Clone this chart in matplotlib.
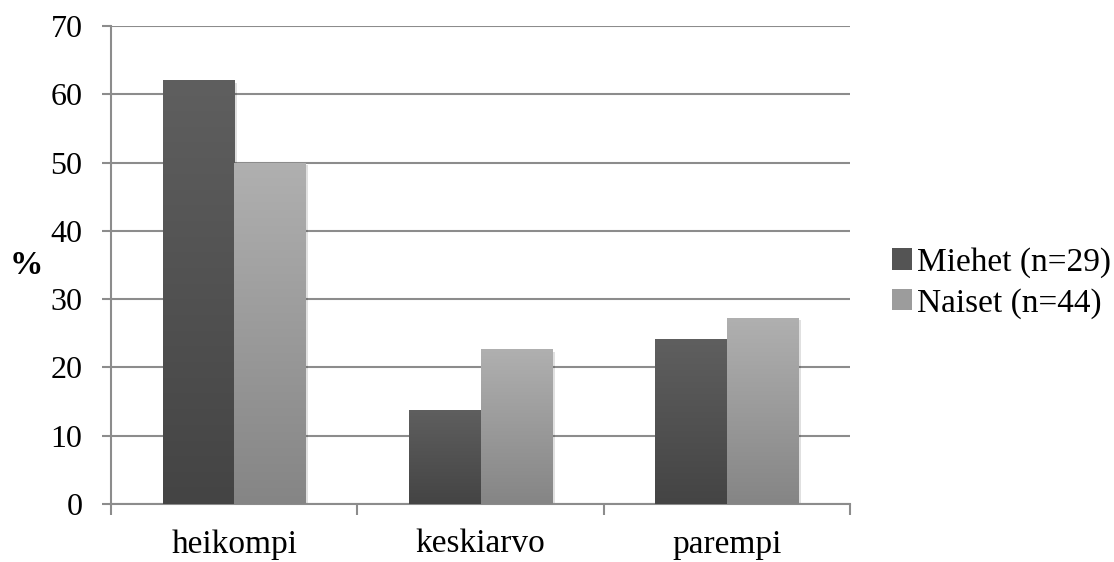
import numpy as np
import matplotlib.pyplot as plt
from matplotlib.colors import to_rgb
from matplotlib.patches import Patch
import matplotlib.patheffects as pe

categories = ['heikompi', 'keskiarvo', 'parempi']
miehet = [62.1, 13.8, 24.1]
naiset = [50.0, 22.7, 27.3]
series_names = ['Miehet (n=29)', 'Naiset (n=44)']

# top and bottom colour of each series' gradient
grad_miehet = ('#5f5f5f', '#444444')
grad_naiset = ('#b0b0b0', '#858585')

plt.rcParams['font.family'] = ['Liberation Serif', 'DejaVu Serif']

fig = plt.figure(figsize=(11.14, 5.62), dpi=100)
ax = fig.add_axes([111 / 1114, 1 - 504 / 562, 739 / 1114, 478 / 562])

x = np.arange(len(categories))
width = 0.29


def gradient_bars(ax, xs, values, colours):
    bars = ax.bar(xs, values, width, color='none', edgecolor='none', zorder=3)
    top = np.array(to_rgb(colours[0]))
    bottom = np.array(to_rgb(colours[1]))
    mid = (top + bottom) / 2
    t = np.linspace(0, 1, 256)[:, None]
    img = (top * (1 - t) + bottom * t)[:, None, :]
    for b in bars:
        x0, y0 = b.get_x(), b.get_y()
        w, h = b.get_width(), b.get_height()
        # soft shadow behind each bar
        sh = plt.Rectangle((x0, y0), w, h, facecolor=mid, edgecolor='none', zorder=2.5,
                           path_effects=[pe.SimplePatchShadow(offset=(2, -2), shadow_rgbFace='#000000', alpha=0.12),
                                         pe.Normal()])
        ax.add_patch(sh)
        im = ax.imshow(img, extent=(x0, x0 + w, y0, y0 + h), aspect='auto', zorder=3, origin='upper')
        im.set_clip_path(b)
    return bars


gradient_bars(ax, x - width / 2, miehet, grad_miehet)
gradient_bars(ax, x + width / 2, naiset, grad_naiset)

ax.set_xlim(-0.5, 2.5)
ax.set_ylim(0, 70)
ax.set_yticks(range(0, 71, 10))
ax.set_xticks(x)
ax.set_xticklabels(categories)
ax.set_xticks([-0.5, 0.5, 1.5, 2.5], minor=True)

ax.yaxis.grid(True, color='#8c8c8c', linewidth=1.5, zorder=0)
ax.set_axisbelow(True)
for side in ['top', 'right']:
    ax.spines[side].set_visible(False)
for side in ['left', 'bottom']:
    ax.spines[side].set_color('#8c8c8c')
    ax.spines[side].set_linewidth(1.5)

ax.tick_params(axis='y', length=6.5, width=1.5, color='#8c8c8c', labelsize=23, pad=14)
ax.tick_params(axis='x', which='major', length=0, labelsize=24, pad=18)
ax.tick_params(axis='x', which='minor', length=8, width=1.5, color='#8c8c8c')

ax.set_ylabel('%', rotation=0, fontsize=24, fontweight='bold', va='center', ha='left')
ax.yaxis.set_label_coords(-101 / 739, 0.5)

handles = [Patch(facecolor='#545454'), Patch(facecolor='#9c9c9c')]
fig.legend(handles, series_names, loc='center left', bbox_to_anchor=(892 / 1114, 1 - 283 / 562),
           frameon=False, fontsize=24, handlelength=0.6, handleheight=0.6, handletextpad=0.15,
           labelspacing=0.3, borderpad=0, borderaxespad=0)

fig.savefig('out.png', dpi=100)
